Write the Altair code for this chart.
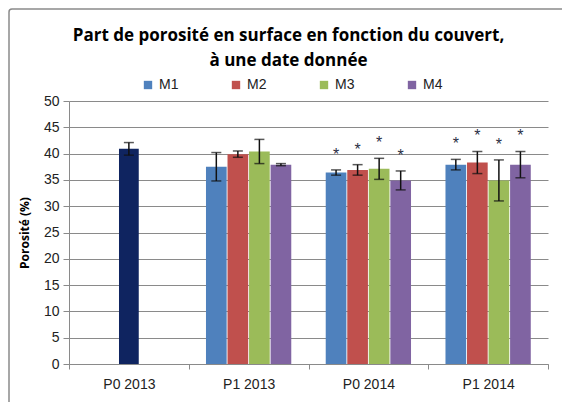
import altair as alt
import pandas as pd

dates = ["P0 2013", "P1 2013", "P0 2014", "P1 2014"]
series = ["M1", "M2", "M3", "M4"]
colors = ["#4F81BD", "#C0504D", "#9BBB59", "#8064A2"]

p0_2013_value = [40.9]
p0_2013_err = [1.2]

m_dates = ["P1 2013", "P0 2014", "P1 2014"]
m1_values = [37.5, 36.4, 37.9]
m2_values = [39.9, 36.9, 38.3]
m3_values = [40.4, 37.1, 34.9]
m4_values = [37.9, 34.9, 37.9]
m1_errs = [2.7, 0.5, 1.0]
m2_errs = [0.6, 1.0, 2.1]
m3_errs = [2.3, 2.0, 3.9]
m4_errs = [0.2, 1.8, 2.5]
star_dates = ["P0 2014", "P1 2014"]

rows = []
for s, vals, errs in zip(series, [m1_values, m2_values, m3_values, m4_values],
                         [m1_errs, m2_errs, m3_errs, m4_errs]):
    for d, v, e in zip(m_dates, vals, errs):
        rows.append({"date": d, "serie": s, "value": v, "lo": v - e, "hi": v + e,
                     "star": d in star_dates})
df = pd.DataFrame(rows)
df0 = pd.DataFrame({"date": ["P0 2013"], "value": p0_2013_value,
                    "lo": [p0_2013_value[0] - p0_2013_err[0]],
                    "hi": [p0_2013_value[0] + p0_2013_err[0]]})

grid = "#8a8a8a"
x = alt.X("date:N", sort=dates, title=None,
          scale=alt.Scale(domain=dates, paddingInner=0, paddingOuter=0),
          axis=alt.Axis(labelAngle=0, tickBand="extent", labelFont="Liberation Sans",
                        labelFontSize=14, labelColor="#222", tickSize=5, tickColor=grid,
                        domainColor=grid, labelPadding=8, grid=False))
yscale = alt.Scale(domain=[0, 50])
yaxis = alt.Axis(values=list(range(0, 51, 5)), title="Porosité (%)", titleFont="Open Sans",
                 titleFontWeight="bold", titleFontSize=12, titleColor="#000",
                 labelFont="Liberation Sans", labelFontSize=14, labelColor="#222",
                 tickSize=6, tickColor=grid, domainColor=grid, gridColor=grid,
                 labelPadding=4, titlePadding=12, labelOverlap=False)


def Y(field):
    return alt.Y(field, scale=yscale, axis=yaxis)


xoff = alt.XOffset("serie:N", scale=alt.Scale(domain=series, paddingInner=0.04, paddingOuter=0.8))

frame = alt.Chart(pd.DataFrame({"a": [0]})).mark_rect(
    fill="transparent", stroke=grid, strokeWidth=1.5, cornerRadius=3
).encode(x=alt.value(-60), x2=alt.value(560), y=alt.value(-92), y2=alt.value(400))

bars = alt.Chart(df).mark_bar().encode(
    x=x, xOffset=xoff, y=Y("value:Q"),
    color=alt.Color("serie:N", scale=alt.Scale(domain=series, range=colors),
                    legend=alt.Legend(title=None, orient="none", legendX=72, legendY=-23,
                                      direction="horizontal", symbolType="square",
                                      symbolSize=70, symbolStrokeWidth=0,
                                      labelFont="Liberation Sans", labelFontSize=14,
                                      labelColor="#222", columnPadding=50)),
)
bar0 = alt.Chart(df0).mark_bar(width=alt.RelativeBandSize(0.165), color="#0F2460").encode(
    x=x, y=Y("value:Q"))

rule = alt.Chart(df).mark_rule(color="#111", strokeWidth=1.5).encode(
    x=x, xOffset=xoff, y=Y("lo:Q"), y2="hi:Q")
cap_hi = alt.Chart(df).mark_tick(color="#111", size=10, thickness=1.5).encode(
    x=x, xOffset=xoff, y=Y("hi:Q"))
cap_lo = alt.Chart(df).mark_tick(color="#111", size=10, thickness=1.5).encode(
    x=x, xOffset=xoff, y=Y("lo:Q"))
rule0 = alt.Chart(df0).mark_rule(color="#111", strokeWidth=1.5).encode(x=x, y=Y("lo:Q"), y2="hi:Q")
cap0_hi = alt.Chart(df0).mark_tick(color="#111", size=10, thickness=1.5).encode(x=x, y=Y("hi:Q"))
cap0_lo = alt.Chart(df0).mark_tick(color="#111", size=10, thickness=1.5).encode(x=x, y=Y("lo:Q"))
stars = alt.Chart(df).transform_filter("datum.star").mark_text(
    text="*", fontSize=16, font="Liberation Sans", baseline="alphabetic", dy=-10, color="#2a2f45"
).encode(x=x, xOffset=xoff, y=Y("hi:Q"))

chart = alt.layer(frame, bars, bar0, rule, cap_hi, cap_lo, rule0, cap0_hi, cap0_lo, stars).properties(
    width=479, height=263,
    title=alt.TitleParams(["Part de porosité en surface en fonction du couvert,", "à une date donnée"],
                          font="Open Sans", fontSize=17, fontWeight="bold", color="#000",
                          anchor="middle", dx=-20, lineHeight=25, offset=-62),
    autosize=alt.AutoSizeParams(type="none"),
    padding={"left": 61, "top": 93, "right": 14, "bottom": 38},
).configure_view(stroke=None)

chart.save("out.html", embed_options={"renderer": "svg", "actions": False})
